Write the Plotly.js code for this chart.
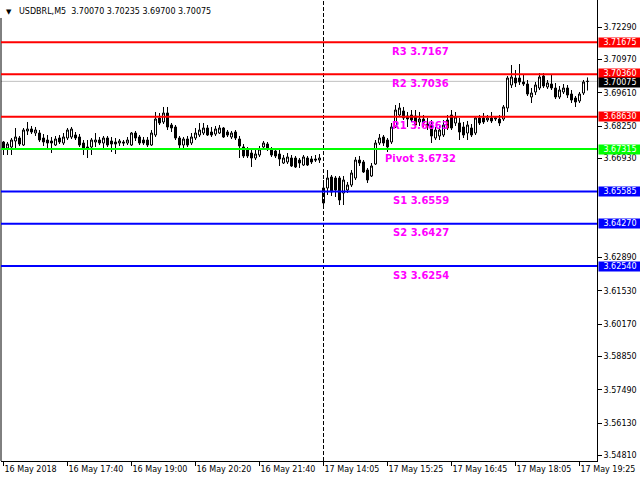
<!DOCTYPE html>
<html>
<head>
<meta charset="utf-8">
<script src="https://cdn.plot.ly/plotly-3.0.1.min.js"></script>
<style>
html, body { margin: 0; padding: 0; background: #ffffff; }
#chart { width: 640px; height: 480px; }
</style>
</head>
<body>
<div id="chart"></div>
<script>
// USDBRL M5 candles, 16 May 2018 16:20 onwards
const symbol = 'USDBRL,M5';

const openP = [
  3.67601, 3.67356, 3.67397, 3.67642, 3.67764, 3.67478, 3.68050, 3.68131, 3.67968, 3.67968,
  3.67764, 3.67682, 3.67642, 3.67478, 3.67764, 3.67560, 3.67764, 3.67805, 3.67886, 3.67805,
  3.67560, 3.67397, 3.67397, 3.67601, 3.67682, 3.67560, 3.67764, 3.67642, 3.67601, 3.67560,
  3.67601, 3.67560, 3.67478, 3.67968, 3.67805, 3.67682, 3.67682, 3.67478, 3.67886, 3.68580,
  3.68417, 3.68784, 3.68294, 3.68213, 3.67764, 3.67478, 3.67723, 3.67560, 3.67764, 3.67886,
  3.67968, 3.68172, 3.68009, 3.67927, 3.67968, 3.68172, 3.68009, 3.67805, 3.68009, 3.67723,
  3.67397, 3.67274, 3.67152, 3.66948, 3.67070, 3.67397, 3.67519, 3.67315, 3.67234, 3.67111,
  3.66744, 3.66785, 3.66948, 3.66948, 3.66866, 3.66662, 3.66948, 3.66907, 3.66907, 3.66866,
  3.65112, 3.65724, 3.66173, 3.66132, 3.66132, 3.65520, 3.65642, 3.65846, 3.66132, 3.66866,
  3.66785, 3.66458, 3.66214, 3.66703, 3.67560, 3.67805, 3.67682, 3.67601, 3.68213, 3.68702,
  3.68866, 3.68662, 3.68702, 3.68662, 3.68417, 3.68539, 3.68335, 3.68294, 3.67764, 3.67846,
  3.67886, 3.68498, 3.68702, 3.68376, 3.68376, 3.68213, 3.67968, 3.68172, 3.67968, 3.68580,
  3.68580, 3.68498, 3.68580, 3.68539, 3.68539, 3.68539, 3.68988, 3.69926, 3.70212, 3.70212,
  3.70049, 3.69967, 3.69437, 3.69641, 3.69804, 3.70294, 3.69845, 3.69967, 3.69804, 3.69437,
  3.69641, 3.69804, 3.69559, 3.69396, 3.69274, 3.69600, 3.70070
];

const highP = [
  3.67642, 3.67601, 3.67764, 3.68172, 3.67846, 3.68172, 3.68417, 3.68254, 3.68213, 3.68090,
  3.67927, 3.67886, 3.67805, 3.67846, 3.67886, 3.67968, 3.68172, 3.68213, 3.68009, 3.67927,
  3.67682, 3.67682, 3.67764, 3.67968, 3.67805, 3.67846, 3.67846, 3.67805, 3.67764, 3.67723,
  3.67682, 3.67805, 3.68009, 3.68050, 3.67886, 3.67805, 3.67805, 3.68090, 3.68825, 3.68784,
  3.69029, 3.69029, 3.68376, 3.68294, 3.67846, 3.67805, 3.67846, 3.67968, 3.68172, 3.68376,
  3.68376, 3.68294, 3.68213, 3.68254, 3.68294, 3.68213, 3.68090, 3.68050, 3.68090, 3.67846,
  3.67519, 3.67397, 3.67274, 3.67274, 3.67438, 3.67642, 3.67601, 3.67397, 3.67315, 3.67274,
  3.67070, 3.67152, 3.67070, 3.67030, 3.66948, 3.67070, 3.67030, 3.67030, 3.67070, 3.67111,
  3.66050, 3.66458, 3.66254, 3.66214, 3.66214, 3.66214, 3.65969, 3.66458, 3.66989, 3.67030,
  3.66866, 3.66540, 3.66744, 3.67682, 3.67927, 3.67886, 3.67764, 3.68376, 3.69110, 3.69192,
  3.69029, 3.68825, 3.68906, 3.68906, 3.68825, 3.68702, 3.68580, 3.68498, 3.68213, 3.68254,
  3.68498, 3.68702, 3.68906, 3.68825, 3.68580, 3.68417, 3.68458, 3.68335, 3.68662, 3.68702,
  3.68784, 3.68702, 3.68825, 3.68662, 3.68702, 3.69110, 3.70294, 3.70742, 3.70538, 3.70783,
  3.70375, 3.70130, 3.69804, 3.70049, 3.70416, 3.70416, 3.70130, 3.70334, 3.70008, 3.69886,
  3.69967, 3.69926, 3.69722, 3.69478, 3.69641, 3.70130, 3.70235
];

const lowP = [
  3.67070, 3.67070, 3.67070, 3.67356, 3.67438, 3.67438, 3.67886, 3.67927, 3.67846, 3.67601,
  3.67438, 3.67356, 3.67152, 3.67438, 3.67519, 3.67478, 3.67682, 3.67723, 3.67682, 3.67397,
  3.67070, 3.66948, 3.67070, 3.67397, 3.67478, 3.67274, 3.67397, 3.67193, 3.67111, 3.67438,
  3.67438, 3.67478, 3.67438, 3.67642, 3.67478, 3.67478, 3.67397, 3.67438, 3.67805, 3.68294,
  3.68335, 3.68090, 3.68009, 3.67682, 3.67274, 3.67315, 3.67397, 3.67478, 3.67682, 3.67805,
  3.67886, 3.67846, 3.67805, 3.67846, 3.67927, 3.67764, 3.67805, 3.67723, 3.67682, 3.66948,
  3.66948, 3.66948, 3.66581, 3.66866, 3.66989, 3.67315, 3.67234, 3.66989, 3.66948, 3.66622,
  3.66703, 3.66703, 3.66581, 3.66540, 3.66540, 3.66622, 3.66622, 3.66703, 3.66785, 3.66744,
  3.64908, 3.65438, 3.65398, 3.65357, 3.65030, 3.65030, 3.65520, 3.65765, 3.66050, 3.66622,
  3.66336, 3.65928, 3.66173, 3.66662, 3.67478, 3.67438, 3.67193, 3.67519, 3.68172, 3.68621,
  3.68498, 3.68213, 3.68417, 3.68172, 3.68254, 3.68213, 3.68090, 3.67560, 3.67682, 3.67682,
  3.67805, 3.68090, 3.68090, 3.68254, 3.67682, 3.67764, 3.67682, 3.67805, 3.67886, 3.68294,
  3.68335, 3.68417, 3.68376, 3.68458, 3.68254, 3.68458, 3.68825, 3.69804, 3.69845, 3.69926,
  3.69886, 3.69478, 3.69192, 3.69518, 3.69722, 3.69804, 3.69763, 3.69722, 3.69355, 3.69355,
  3.69559, 3.69396, 3.69192, 3.69029, 3.69192, 3.69518, 3.69700
];

const closeP = [
  3.67315, 3.67519, 3.67682, 3.67805, 3.67519, 3.68090, 3.68131, 3.68009, 3.68090, 3.67682,
  3.67601, 3.67560, 3.67560, 3.67723, 3.67601, 3.67805, 3.68090, 3.68131, 3.67764, 3.67478,
  3.67356, 3.67356, 3.67682, 3.67682, 3.67560, 3.67764, 3.67478, 3.67519, 3.67519, 3.67642,
  3.67560, 3.67682, 3.67968, 3.67764, 3.67560, 3.67560, 3.67478, 3.67968, 3.68539, 3.68376,
  3.68784, 3.68213, 3.68172, 3.67764, 3.67478, 3.67723, 3.67478, 3.67805, 3.67968, 3.68090,
  3.68172, 3.67886, 3.67886, 3.68131, 3.68172, 3.67805, 3.67886, 3.67968, 3.67764, 3.67438,
  3.67030, 3.67030, 3.66948, 3.67111, 3.67315, 3.67560, 3.67315, 3.67070, 3.67030, 3.66907,
  3.66948, 3.66989, 3.66622, 3.66581, 3.66744, 3.66989, 3.66662, 3.66785, 3.66866, 3.66948,
  3.65724, 3.66132, 3.65561, 3.65642, 3.65234, 3.66050, 3.65846, 3.66336, 3.66866, 3.66744,
  3.66377, 3.66050, 3.66622, 3.67560, 3.67764, 3.67560, 3.67397, 3.68213, 3.68906, 3.68988,
  3.68580, 3.68539, 3.68498, 3.68294, 3.68539, 3.68376, 3.68254, 3.67846, 3.68090, 3.68090,
  3.68294, 3.68172, 3.68172, 3.68621, 3.68009, 3.67886, 3.68294, 3.67886, 3.68580, 3.68376,
  3.68417, 3.68580, 3.68458, 3.68580, 3.68376, 3.69029, 3.70212, 3.70253, 3.70008, 3.70049,
  3.69967, 3.69559, 3.69600, 3.69926, 3.70253, 3.69886, 3.70008, 3.69804, 3.69437, 3.69722,
  3.69804, 3.69518, 3.69314, 3.69233, 3.69559, 3.70049, 3.70075
];

// time axis labels, one every 16 bars (80 minutes)
const timeLabels = [
  '16 May 2018', '16 May 17:40', '16 May 19:00', '16 May 20:20', '16 May 21:40',
  '17 May 14:05', '17 May 15:25', '17 May 16:45', '17 May 18:05', '17 May 19:25'
];
const barsPerLabel = 16;
const firstBarOfDay = 80;   // first bar of 17 May

// price scale labels
const priceTicks = [
  3.72290, 3.70970, 3.69610, 3.68250, 3.66930,
  3.62890, 3.61530, 3.60170, 3.58850, 3.57490, 3.56130, 3.54810
];

// daily pivot levels
const levelNames  = ['R3', 'R2', 'R1', 'Pivot', 'S1', 'S2', 'S3'];
const levelValues = [3.716748, 3.70360, 3.68630, 3.673152, 3.655852, 3.64270, 3.62540];

// ---- drawing ----
const levelColors = ['#ff0000', '#ff0000', '#ff0000', '#00ff00', '#0000ff', '#0000ff', '#0000ff'];
const uiFont = 'DejaVu Sans';
const barIndex = openP.map((_, i) => i);
const last = openP.length - 1;
const lastClose = closeP[last];

const candles = {
  type: 'candlestick',
  x: barIndex,
  open: openP, high: highP, low: lowP, close: closeP,
  increasing: { line: { color: '#000000', width: 1 }, fillcolor: '#ffffff' },
  decreasing: { line: { color: '#000000', width: 1 }, fillcolor: '#000000' },
  whiskerwidth: 0,
  hoverinfo: 'skip',
  showlegend: false
};

const shapes = [];
// last price line
shapes.push({
  type: 'line', xref: 'paper', x0: 0, x1: 1, yref: 'y', y0: lastClose, y1: lastClose,
  line: { color: '#c0c0c0', width: 1 }, layer: 'below'
});
// day separator
shapes.push({
  type: 'line', xref: 'x', x0: firstBarOfDay, x1: firstBarOfDay, yref: 'paper', y0: 0, y1: 1,
  line: { color: '#000000', width: 1, dash: '4px,2px' }, layer: 'above'
});
// left frame edge
shapes.push({
  type: 'line', xref: 'paper', x0: 0, x1: 0, yref: 'paper', y0: 0, y1: 0.961,
  line: { color: '#000000', width: 1 }
});
levelValues.forEach((v, k) => {
  shapes.push({
    type: 'line', xref: 'paper', x0: 0, x1: 1, yref: 'y', y0: v, y1: v,
    line: { color: levelColors[k], width: 2 }, layer: 'above'
  });
});

const annotations = [];
// pivot level captions
levelValues.forEach((v, k) => {
  annotations.push({
    xref: 'x', x: 104.25, yref: 'y', y: v, yanchor: 'middle', xanchor: 'center', yshift: -9,
    text: levelNames[k] + ' ' + v.toFixed(4), showarrow: false,
    font: { family: uiFont, size: 10, color: '#ff00ff', weight: 'bold' }
  });
});
// price tags on the scale
const tag = (v, bg, dy) => ({
  xref: 'paper', x: 1, xanchor: 'left', xshift: 1,
  yref: 'y', y: v, yanchor: 'middle', yshift: dy,
  text: v.toFixed(5), showarrow: false, bgcolor: bg, borderpad: 0,
  width: 42, height: 9, align: 'center',
  font: { family: uiFont, size: 8, color: '#ffffff' }
});
levelValues.forEach((v, k) => annotations.push(tag(v, levelColors[k], k === 1 ? 1 : 0)));
annotations.push(tag(lastClose, '#000000', -1));
// chart header
annotations.push({
  xref: 'paper', x: 0, xanchor: 'left', xshift: 3, yref: 'paper', y: 1, yanchor: 'middle', yshift: -12,
  text: '\u25BC', showarrow: false, font: { family: uiFont, size: 7, color: '#000000' }
});
annotations.push({
  xref: 'paper', x: 0, xanchor: 'left', xshift: 16, yref: 'paper', y: 1, yanchor: 'middle', yshift: -11,
  text: symbol + '\u00a0\u00a0' + [openP[last], highP[last], lowP[last], closeP[last]].map(v => v.toFixed(5)).join(' '),
  showarrow: false, font: { family: uiFont, size: 8, color: '#000000' }
});

const layout = {
  width: 640, height: 480,
  margin: { l: 1, r: 43, t: 0, b: 19, pad: 0 },
  paper_bgcolor: '#ffffff', plot_bgcolor: '#ffffff',
  showlegend: false,
  boxgap: 0.5, boxgroupgap: 0,
  xaxis: {
    type: 'linear',
    range: [-0.625, 148.375],
    tickvals: timeLabels.map((_, i) => i * barsPerLabel),
    ticktext: timeLabels,
    ticks: 'outside', ticklen: 4, tickwidth: 1, tickcolor: '#000000',
    ticklabelposition: 'outside right',
    tickfont: { family: uiFont, size: 8, color: '#000000' },
    showgrid: false, zeroline: false,
    showline: true, linecolor: '#000000', linewidth: 1,
    rangeslider: { visible: false }, fixedrange: true
  },
  yaxis: {
    side: 'right',
    range: [3.545854, 3.733942],
    tickvals: priceTicks,
    ticktext: priceTicks.map(v => v.toFixed(5)),
    ticks: 'outside', ticklen: 4, tickwidth: 1, tickcolor: '#000000',
    tickfont: { family: uiFont, size: 8, color: '#000000' },
    showgrid: false, zeroline: false,
    showline: true, linecolor: '#000000', linewidth: 1,
    fixedrange: true
  },
  shapes: shapes,
  annotations: annotations
};

Plotly.newPlot('chart', [candles], layout, { staticPlot: true, displayModeBar: false });
</script>
</body>
</html>
